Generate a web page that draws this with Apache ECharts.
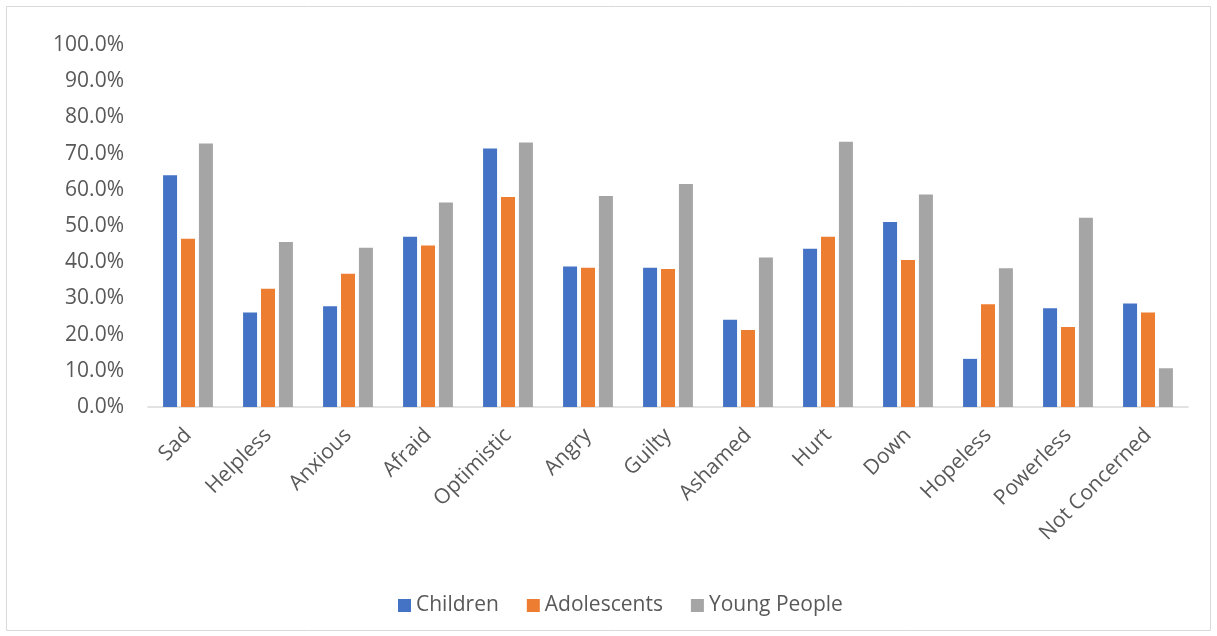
<!DOCTYPE html>
<html>
<head>
<meta charset="utf-8">
<script src="https://cdn.jsdelivr.net/npm/echarts@6/dist/echarts.min.js"></script>
<style>
  html, body { margin: 0; padding: 0; background: #ffffff; }
  #chart { width: 1217px; height: 636px; }
</style>
</head>
<body>
<div id="chart"></div>
<script>
// Feelings reported, share of respondents per age group (%)
const categories = ['Sad', 'Helpless', 'Anxious', 'Afraid', 'Optimistic', 'Angry', 'Guilty',
  'Ashamed', 'Hurt', 'Down', 'Hopeless', 'Powerless', 'Not Concerned'];
const children     = [64.0, 26.1, 27.8, 47.0, 71.4, 38.8, 38.5, 24.1, 43.7, 51.1, 13.3, 27.3, 28.6];
const adolescents  = [46.5, 32.7, 36.8, 44.6, 58.0, 38.5, 38.1, 21.3, 47.0, 40.6, 28.4, 22.1, 26.1];
const youngPeople  = [72.8, 45.6, 44.0, 56.5, 73.1, 58.3, 61.6, 41.3, 73.3, 58.7, 38.3, 52.3, 10.7];
const seriesNames  = ['Children', 'Adolescents', 'Young People'];
const seriesColors = ['#4472C4', '#ED7D31', '#A5A5A5'];

const font = '"Open Sans", "Noto Sans", sans-serif';
const textColor = '#595959';

const chart = echarts.init(document.getElementById('chart'), null, { renderer: 'canvas' });

const seriesData = [children, adolescents, youngPeople];

chart.setOption({
  animation: false,
  backgroundColor: '#ffffff',
  graphic: [{
    type: 'rect',
    shape: { x: 6.5, y: 6.5, width: 1204, height: 624 },
    style: { fill: 'none', stroke: '#d9d9d9', lineWidth: 1 },
    silent: true
  }],
  grid: { left: 148, right: 29, top: 45, bottom: 229, containLabel: false },
  legend: {
    data: seriesNames,
    top: 590,
    left: 393,
    itemWidth: 13,
    itemHeight: 13,
    itemGap: 28,
    icon: 'rect',
    textStyle: { fontFamily: font, fontSize: 21, color: textColor, padding: [0, 0, 0, 0] }
  },
  xAxis: {
    type: 'category',
    data: categories,
    axisLine: { show: true, lineStyle: { color: '#d9d9d9', width: 1.5 } },
    axisTick: { show: false },
    axisLabel: {
      rotate: 45,
      interval: 0,
      margin: 25,
      fontFamily: font,
      fontSize: 21,
      color: textColor
    }
  },
  yAxis: {
    type: 'value',
    min: 0,
    max: 100,
    interval: 10,
    axisLine: { show: false },
    axisTick: { show: false },
    splitLine: { show: false },
    axisLabel: {
      margin: 24,
      fontFamily: font,
      fontSize: 21,
      color: textColor,
      formatter: v => v.toFixed(1) + '%'
    }
  },
  series: seriesNames.map((name, i) => ({
    name,
    type: 'bar',
    data: seriesData[i],
    barWidth: 14,
    barGap: '28%',
    itemStyle: { color: seriesColors[i] }
  }))
});
</script>
</body>
</html>
